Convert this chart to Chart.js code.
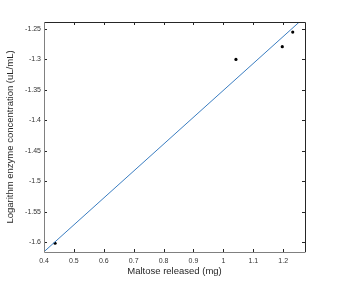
<!DOCTYPE html>
<html>
<head>
<meta charset="utf-8">
<script src="https://cdn.jsdelivr.net/npm/chart.js@4"></script>
<style>
  html, body { margin: 0; padding: 0; background: #fff; }
  #wrap { width: 337px; height: 286px; }
</style>
</head>
<body>
<div id="wrap"><canvas id="fitChart" width="337" height="286"></canvas></div>
<script>
const maltose = [0.437, 1.042, 1.197, 1.232];
const logConc = [-1.602, -1.300, -1.279, -1.255];

//Fitted line end points
const fitX = [0.4, 1.254];
const fitY = [-1.616, -1.2385];

//Axis ticks and limits
const xTicks = [0.4, 0.5, 0.6, 0.7, 0.8, 0.9, 1, 1.1, 1.2];
const yTicks = [-1.6, -1.55, -1.5, -1.45, -1.4, -1.35, -1.3, -1.25];
const xLimits = [0.4, 1.273];
const yLimits = [-1.6164, -1.2385];

//Draw the box round the plot and inward tick marks on all four sides
const boxPlugin = {
  id: "boxPlugin",
  afterDraw(chart) {
    const ctx = chart.ctx;
    const a = chart.chartArea;
    const xs = chart.scales.x;
    const ys = chart.scales.y;
    const len = 3;
    ctx.save();
    ctx.lineWidth = 1;
    //ticks
    ctx.strokeStyle = "#262626";
    ctx.beginPath();
    xTicks.forEach((v) => {
      const px = Math.round(xs.getPixelForValue(v)) + 0.5;
      ctx.moveTo(px, a.bottom);
      ctx.lineTo(px, a.bottom - len);
      ctx.moveTo(px, a.top);
      ctx.lineTo(px, a.top + len);
    });
    yTicks.forEach((v) => {
      const py = Math.round(ys.getPixelForValue(v)) + 0.5;
      ctx.moveTo(a.left, py);
      ctx.lineTo(a.left + len, py);
      ctx.moveTo(a.right, py);
      ctx.lineTo(a.right - len, py);
    });
    ctx.stroke();
    //frame: top and right dark, left and bottom grey
    ctx.beginPath();
    ctx.moveTo(a.left, a.top + 0.5);
    ctx.lineTo(a.right + 0.5, a.top + 0.5);
    ctx.lineTo(a.right + 0.5, a.bottom);
    ctx.stroke();
    ctx.strokeStyle = "#808080";
    ctx.beginPath();
    ctx.moveTo(a.left + 0.5, a.top);
    ctx.lineTo(a.left + 0.5, a.bottom + 0.5);
    ctx.lineTo(a.right + 0.5, a.bottom + 0.5);
    ctx.stroke();
    ctx.restore();
  },
};

const pointData = maltose.map((x, i) => ({ x: x, y: logConc[i] }));
const lineData = fitX.map((x, i) => ({ x: x, y: fitY[i] }));

const fmt = (v) => String(+Number(v).toFixed(2));

new Chart(document.getElementById("fitChart"), {
  type: "scatter",
  data: {
    datasets: [
      {
        label: "Fit",
        type: "line",
        data: lineData,
        borderColor: "#3a7dc1",
        borderWidth: 1,
        pointRadius: 0,
        fill: false,
        tension: 0,
      },
      {
        label: "Data",
        data: pointData,
        backgroundColor: "#000",
        borderColor: "#000",
        pointRadius: 1.6,
        borderWidth: 0,
      },
    ],
  },
  options: {
    responsive: false,
    animation: false,
    devicePixelRatio: 1,
    layout: { padding: { left: 0, top: 22, right: 32, bottom: 9 } },
    plugins: {
      legend: { display: false },
      tooltip: { enabled: false },
    },
    scales: {
      x: {
        type: "linear",
        min: xLimits[0],
        max: xLimits[1],
        afterBuildTicks: (s) => { s.ticks = xTicks.map((v) => ({ value: v })); },
        afterFit: (s) => { s.height = 25; },
        grid: { display: false, drawTicks: false },
        border: { display: false },
        ticks: {
          padding: 5,
          color: "#333",
          font: { family: "Liberation Sans", size: 7 },
          maxRotation: 0,
          callback: fmt,
        },
        title: {
          display: true,
          text: "Maltose released (mg)",
          color: "#262626",
          font: { family: "Liberation Sans", size: 9.5 },
          padding: { top: 2, bottom: 0 },
        },
      },
      y: {
        type: "linear",
        min: yLimits[0],
        max: yLimits[1],
        afterBuildTicks: (s) => { s.ticks = yTicks.map((v) => ({ value: v })); },
        afterFit: (s) => { s.width = 44; },
        grid: { display: false, drawTicks: false },
        border: { display: false },
        ticks: {
          padding: 3,
          color: "#333",
          font: { family: "Liberation Sans", size: 7 },
          callback: fmt,
        },
        title: {
          display: true,
          text: "Logarithm enzyme concentration (uL/mL)",
          color: "#262626",
          font: { family: "Liberation Sans", size: 9.5 },
          padding: { top: 5, bottom: 0 },
        },
      },
    },
  },
  plugins: [boxPlugin],
});
</script>
</body>
</html>
